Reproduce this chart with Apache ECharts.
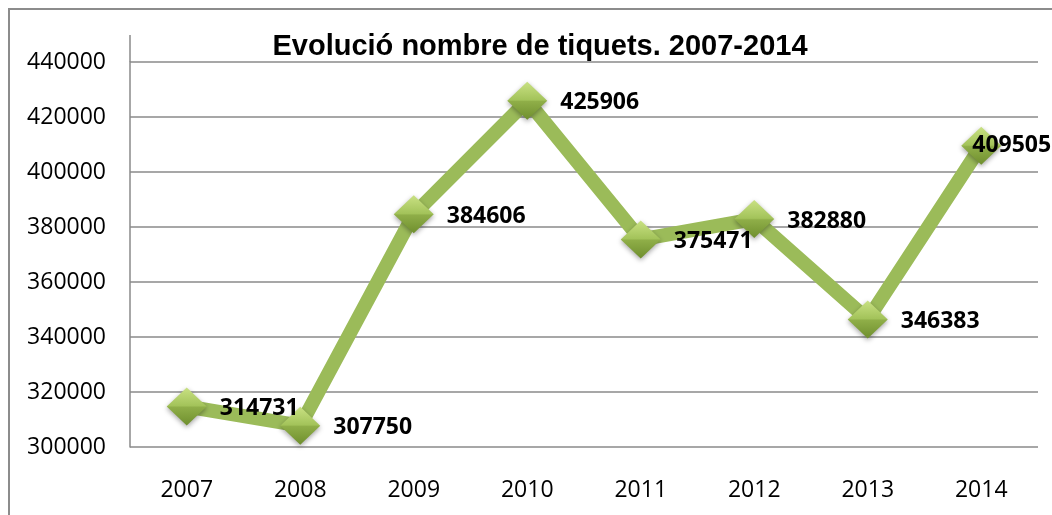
<!DOCTYPE html>
<html>
<head>
<meta charset="utf-8">
<script src="https://cdn.jsdelivr.net/npm/echarts@6/dist/echarts.min.js"></script>
<style>
    html, body { margin: 0; padding: 0; background: #fff; }
    #chart { width: 1052px; height: 515px; }
</style>
</head>
<body>
<div id="chart"></div>
<script>
// dades
const years = ['2007', '2008', '2009', '2010', '2011', '2012', '2013', '2014'];
const tickets = [314731, 307750, 384606, 425906, 375471, 382880, 346383, 409505];
const yTicks = [300000, 320000, 340000, 360000, 380000, 400000, 420000, 440000];

const chart = echarts.init(document.getElementById('chart'));

// rombe amb degradat (efecte bisell)
const markerColor = {
    type: 'linear', x: 0, y: 0, x2: 0, y2: 1,
    colorStops: [
        { offset: 0, color: '#c9e183' },
        { offset: 0.48, color: '#a3c35a' },
        { offset: 0.52, color: '#8fae48' },
        { offset: 1, color: '#6f8f2e' }
    ]
};

const seriesData = tickets.map((v, i) => {
    const item = { value: v };
    // l'ultima etiqueta queda retallada a la vora, Excel la desplaça
    if (i === tickets.length - 1) {
        item.label = { offset: [-42, 0] };
    }
    return item;
});

const option = {
    animation: false,
    title: {
        text: 'Evolució nombre de tiquets. 2007-2014',
        left: 535,
        top: 27,
        textAlign: 'center',
        textStyle: {
            fontFamily: 'Liberation Sans',
            fontWeight: 'bold',
            fontSize: 29,
            color: '#000'
        }
    },
    grid: { left: 130, right: 14, top: 62, bottom: 68 },
    xAxis: {
        type: 'category',
        data: years,
        boundaryGap: true,
        axisLine: { show: false },
        axisTick: { show: false },
        axisLabel: {
            fontFamily: 'Open Sans',
            fontSize: 23,
            color: '#000',
            margin: 32
        }
    },
    yAxis: {
        type: 'value',
        min: yTicks[0],
        max: yTicks[yTicks.length - 1],
        interval: 20000,
        axisLine: { show: true, lineStyle: { color: '#8a8a8a', width: 1.5 } },
        axisTick: { show: false },
        splitLine: { show: true, lineStyle: { color: '#8a8a8a', width: 1.5 } },
        axisLabel: {
            fontFamily: 'Open Sans',
            fontSize: 23,
            color: '#000',
            margin: 24,
            formatter: (v) => String(v)
        }
    },
    graphic: [
        {
            type: 'rect',
            shape: { x: 9, y: 9, width: 1200, height: 700 },
            style: { fill: 'none', stroke: '#8c8c8c', lineWidth: 2 },
            silent: true
        },
        {
            type: 'line',
            shape: { x1: 130, y1: 35, x2: 130, y2: 62 },
            style: { stroke: '#8a8a8a', lineWidth: 1.5 },
            silent: true
        }
    ],
    series: [
        {
            name: 'Tiquets',
            type: 'line',
            data: seriesData,
            symbol: 'diamond',
            symbolSize: [40, 38],
            lineStyle: { color: '#9bbb59', width: 14, cap: 'round' },
            itemStyle: {
                color: markerColor,
                shadowColor: 'rgba(0,0,0,0.35)',
                shadowBlur: 5,
                shadowOffsetY: 2
            },
            label: {
                show: true,
                position: 'right',
                distance: 13,
                offset: [0, 2],
                fontFamily: 'Open Sans',
                fontWeight: 'bold',
                fontSize: 23,
                color: '#000'
            },
            z: 3
        }
    ]
};

chart.setOption(option);
window.addEventListener('resize', () => chart.resize());
</script>
</body>
</html>
